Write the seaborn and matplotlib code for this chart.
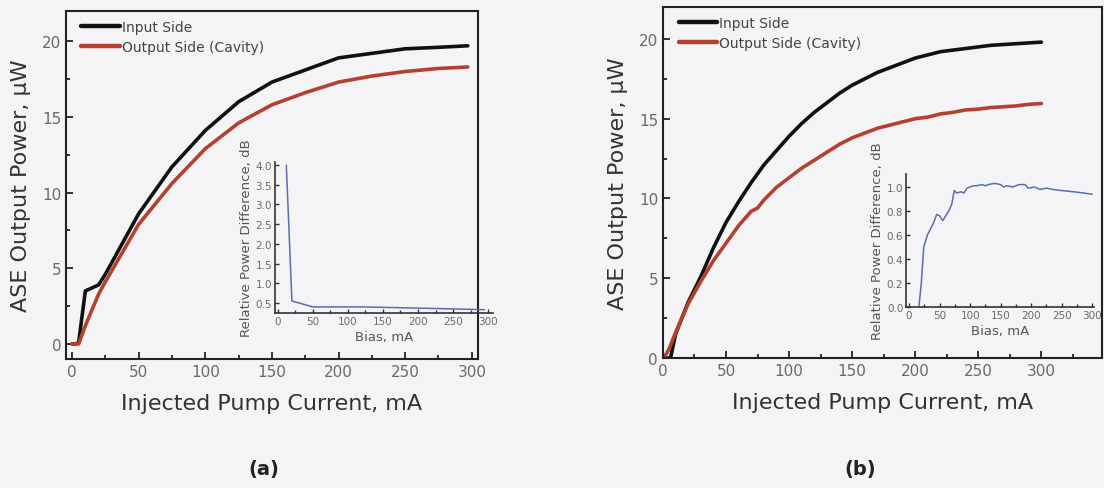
import numpy as np
import pandas as pd
import seaborn as sns
from matplotlib import pyplot as plt
from matplotlib.ticker import MultipleLocator

# Panel (a) - ASE output power vs pump current
a_input_x = [0, 3, 5, 10, 20, 25, 50, 75, 100, 125, 150, 175, 200, 225, 250, 275, 297]
a_input_y = [0, 0, 0.1, 3.5, 3.9, 4.6, 8.6, 11.7, 14.1, 16.0, 17.3, 18.1, 18.9, 19.2, 19.5, 19.6, 19.7]
a_output_x = [0, 5, 10, 20, 25, 50, 75, 100, 125, 150, 175, 200, 225, 250, 275, 297]
a_output_y = [0, 0, 1.2, 3.3, 4.1, 7.9, 10.6, 12.9, 14.6, 15.8, 16.6, 17.3, 17.7, 18.0, 18.2, 18.3]

# Panel (a) inset - relative power difference
a_bias = [12, 20, 50, 120, 200, 295]
a_diff = [4.0, 0.55, 0.4, 0.4, 0.37, 0.33]

# Panel (b)
b_input_x = [3, 6, 10, 20, 30, 40, 50, 60, 70, 80, 90, 100, 110, 120, 130, 140, 150, 160,
             170, 180, 190, 200, 210, 220, 230, 240, 250, 260, 270, 280, 290, 300]
b_input_y = [0, 0, 1.5, 3.5, 5.1, 6.9, 8.5, 9.8, 11.0, 12.1, 13.0, 13.9, 14.7, 15.4, 16.0,
             16.6, 17.1, 17.5, 17.9, 18.2, 18.5, 18.8, 19.0, 19.2, 19.3, 19.4, 19.5, 19.6,
             19.65, 19.7, 19.75, 19.8]
b_output_x = [0, 3, 5, 10, 20, 30, 40, 50, 60, 70, 75, 80, 90, 100, 110, 120, 130, 140, 150,
              160, 170, 180, 190, 200, 210, 220, 230, 240, 250, 260, 270, 280, 290, 300]
b_output_y = [0, 0.3, 0.6, 1.6, 3.4, 4.8, 6.1, 7.2, 8.3, 9.2, 9.4, 9.9, 10.7, 11.3, 11.9,
              12.4, 12.9, 13.4, 13.8, 14.1, 14.4, 14.6, 14.8, 15.0, 15.1, 15.3, 15.4, 15.55,
              15.6, 15.7, 15.75, 15.8, 15.9, 15.95]

# Panel (b) inset
b_bias = [16, 20, 24, 30, 40, 45, 50, 55, 60, 65, 70, 74, 78, 85, 90, 95, 105, 110, 120, 125,
          130, 140, 150, 155, 160, 170, 175, 180, 190, 195, 205, 215, 225, 235, 250, 270, 300]
b_diff = [0, 0.2, 0.5, 0.6, 0.7, 0.77, 0.76, 0.72, 0.76, 0.8, 0.86, 0.97, 0.95, 0.96, 0.95,
          0.99, 1.01, 1.01, 1.02, 1.01, 1.02, 1.03, 1.02, 1.0, 1.01, 1.0, 1.01, 1.02, 1.02,
          0.99, 1.0, 0.98, 0.99, 0.98, 0.97, 0.96, 0.94]

labels = ["Input Side", "Output Side (Cavity)"]

sns.set_style("ticks")
plt.rcParams["font.family"] = ["DejaVu Sans"]
bg = "#f4f4f6"
black = "#111111"
red = "#b5402f"
blue = "#5b6cb0"

fig = plt.figure(figsize=(11.04, 4.89), dpi=100, facecolor=bg)


def main_panel(rect, ix, iy, ox, oy, xlim):
    ax = fig.add_axes(rect, facecolor=bg)
    df_in = pd.DataFrame({"x": ix, "y": iy})
    df_out = pd.DataFrame({"x": ox, "y": oy})
    sns.lineplot(data=df_in, x="x", y="y", ax=ax, color=black, lw=2.6, label=labels[0])
    sns.lineplot(data=df_out, x="x", y="y", ax=ax, color=red, lw=2.6, label=labels[1])
    ax.set_xlim(*xlim)
    ax.set_ylim(-1 if xlim[0] < 0 else 0, 22)
    ax.set_xticks([0, 50, 100, 150, 200, 250, 300])
    ax.set_yticks([0, 5, 10, 15, 20])
    ax.xaxis.set_minor_locator(MultipleLocator(25))
    ax.yaxis.set_minor_locator(MultipleLocator(2.5))
    ax.tick_params(which="both", direction="in", width=1.3, colors="#222222",
                   labelcolor="#6a6a6a", labelsize=11)
    ax.tick_params(which="major", length=5)
    ax.tick_params(which="minor", length=3)
    for s in ax.spines.values():
        s.set_linewidth(1.5)
        s.set_color("#222222")
    ax.set_xlabel("Injected Pump Current, mA", fontsize=16, color="#333333", labelpad=10)
    ax.set_ylabel("ASE Output Power, µW", fontsize=16, color="#333333", labelpad=8)
    leg = ax.legend(loc="upper left", bbox_to_anchor=(0.015, 1.0), frameon=False, fontsize=10,
                    handlelength=2.8, handletextpad=0.1, labelspacing=0.45, borderaxespad=0.25)
    for t in leg.get_texts():
        t.set_color("#444444")
    for h in leg.get_lines():
        h.set_linewidth(3.2)
    return ax


def inset(rect, bx, by, xlim, ylim, yticks):
    ax = fig.add_axes(rect, facecolor="none")
    df = pd.DataFrame({"x": bx, "y": by})
    sns.lineplot(data=df, x="x", y="y", ax=ax, color=blue, lw=1.1)
    ax.set_xlim(*xlim)
    ax.set_ylim(*ylim)
    ax.set_xticks([0, 50, 100, 150, 200, 250, 300])
    ax.set_yticks(yticks)
    ax.xaxis.set_minor_locator(MultipleLocator(25))
    ax.tick_params(which="both", direction="in", width=1, colors="#333333",
                   labelcolor="#6a6a6a", labelsize=7.5, pad=2)
    ax.tick_params(which="major", length=3)
    ax.tick_params(which="minor", length=2)
    sns.despine(ax=ax)
    for s in ["left", "bottom"]:
        ax.spines[s].set_linewidth(1.2)
        ax.spines[s].set_color("#333333")
    ax.set_xlabel("Bias, mA", fontsize=9.5, color="#555555", labelpad=3)
    ax.set_ylabel("Relative Power Difference, dB", fontsize=9.5, color="#555555", labelpad=2)
    return ax


main_panel([0.0598, 0.2638, 0.373, 0.7117], a_input_x, a_input_y, a_output_x, a_output_y, (-4.5, 304.5))
inset([0.249, 0.3579, 0.1975, 0.309], a_bias, a_diff, (-4.3, 307), (0.246, 4.08),
      [0.5, 1.0, 1.5, 2.0, 2.5, 3.0, 3.5, 4.0])

main_panel([0.6005, 0.2658, 0.3976, 0.7178], b_input_x, b_input_y, b_output_x, b_output_y, (0, 348))
inset([0.8207, 0.3701, 0.1703, 0.272], b_bias, b_diff, (-5, 303), (0, 1.108),
      [0.0, 0.2, 0.4, 0.6, 0.8, 1.0])

fig.text(0.239, 0.04, "(a)", fontsize=14, fontweight="bold", ha="center", va="center", color="#222222")
fig.text(0.779, 0.04, "(b)", fontsize=14, fontweight="bold", ha="center", va="center", color="#222222")

fig.savefig("out.png", dpi=100, facecolor=bg)
